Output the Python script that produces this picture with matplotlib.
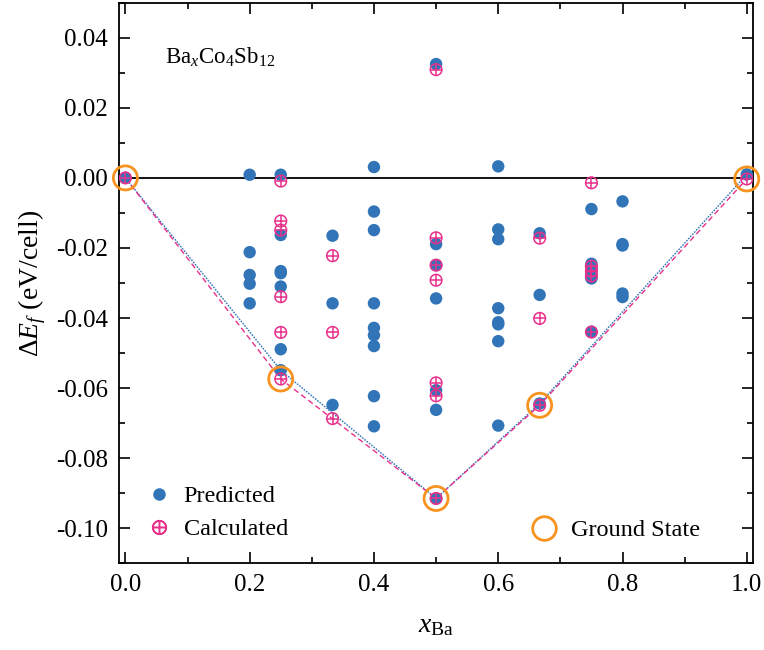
import numpy as np
import matplotlib.pyplot as plt
from matplotlib.ticker import MultipleLocator, FuncFormatter
from matplotlib.lines import Line2D

plt.rcParams["font.family"] = ["Liberation Serif", "DejaVu Serif"]
plt.rcParams["mathtext.fontset"] = "custom"
plt.rcParams["mathtext.rm"] = "Liberation Serif"
plt.rcParams["mathtext.it"] = "Liberation Serif:italic"

# predicted formation energies (eV/cell)
pred_x = [0.0,
          0.2, 0.2, 0.2, 0.2, 0.2,
          0.25, 0.25, 0.25, 0.25, 0.25, 0.25, 0.25,
          1/3, 1/3, 1/3,
          0.4, 0.4, 0.4, 0.4, 0.4, 0.4, 0.4, 0.4, 0.4,
          0.5, 0.5, 0.5, 0.5, 0.5, 0.5, 0.5,
          0.6, 0.6, 0.6, 0.6, 0.6, 0.6, 0.6, 0.6,
          2/3, 2/3, 2/3,
          0.75, 0.75, 0.75, 0.75, 0.75, 0.75,
          0.8, 0.8, 0.8, 0.8, 0.8,
          1.0]
pred_y = [0.0,
          0.0009, -0.0212, -0.0277, -0.0302, -0.0358,
          0.0009, -0.0163, -0.0266, -0.0272, -0.0310, -0.0489, -0.0549,
          -0.0165, -0.0358, -0.0648,
          0.0031, -0.0096, -0.0149, -0.0358, -0.0428, -0.0449, -0.0480, -0.0623, -0.0709,
          0.0325, -0.0189, -0.0249, -0.0344, -0.0606, -0.0662, -0.0915,
          0.0033, -0.0147, -0.0175, -0.0372, -0.0412, -0.0418, -0.0466, -0.0707,
          -0.0158, -0.0334, -0.0644,
          -0.0089, -0.0245, -0.0260, -0.0275, -0.0287, -0.0439,
          -0.0067, -0.0189, -0.0193, -0.0330, -0.0340,
          0.0010]

# DFT-calculated formation energies (eV/cell)
calc_x = [0.0,
          0.25, 0.25, 0.25, 0.25, 0.25, 0.25,
          1/3, 1/3, 1/3,
          0.5, 0.5, 0.5, 0.5, 0.5, 0.5, 0.5,
          2/3, 2/3, 2/3,
          0.75, 0.75, 0.75, 0.75, 0.75,
          1.0]
calc_y = [0.0,
          -0.0009, -0.0123, -0.0149, -0.0339, -0.0441, -0.0574,
          -0.0222, -0.0441, -0.0687,
          0.0309, -0.0171, -0.0249, -0.0292, -0.0585, -0.0622, -0.0915,
          -0.0172, -0.0401, -0.0649,
          -0.0014, -0.0252, -0.0266, -0.0280, -0.0440,
          -0.0003]

# convex hulls
pred_hull_x = [0.0, 0.25, 0.5, 2/3, 1.0]
pred_hull_y = [0.0, -0.0549, -0.0915, -0.0644, 0.0010]
calc_hull_x = [0.0, 0.25, 0.5, 2/3, 1.0]
calc_hull_y = [0.0, -0.0574, -0.0915, -0.0649, -0.0003]

blue = "#3175b8"
pink = "#e8308a"
orange = "#f7931e"

fig = plt.figure(figsize=(7.64, 6.5), dpi=100)
ax = fig.add_axes([0.156, 0.1334, 0.8296, 0.8624])

ax.axhline(0, color="black", lw=1.3, zorder=1)

ax.plot(pred_hull_x, pred_hull_y, color=blue, lw=1.0, ls=(0, (1.2, 0.9)), zorder=2)
ax.plot(calc_hull_x, calc_hull_y, color=pink, lw=1.0, ls=(0, (4, 2.5)), zorder=2)

ax.scatter(pred_x, pred_y, s=80, color=blue, edgecolors="none", zorder=3)
ax.scatter(calc_x, calc_y, s=70, facecolors="none", edgecolors=pink, linewidths=1.1, zorder=4)
ax.scatter(calc_x, calc_y, s=70, marker="+", color=pink, linewidths=1.1, zorder=4)

ax.scatter(calc_hull_x, calc_hull_y, s=300, facecolors="none", edgecolors=orange,
           linewidths=2.0, zorder=5, clip_on=False)

ax.set_xlim(-0.01, 1.01)
ax.set_ylim(-0.11, 0.05)
ax.xaxis.set_major_locator(MultipleLocator(0.2))
ax.xaxis.set_minor_locator(MultipleLocator(0.1))
ax.yaxis.set_major_locator(MultipleLocator(0.02))
ax.yaxis.set_minor_locator(MultipleLocator(0.01))
ax.xaxis.set_major_formatter(FuncFormatter(lambda v, p: f"{v + 0.0:.1f}"))
ax.yaxis.set_major_formatter(FuncFormatter(lambda v, p: "0.00" if abs(v) < 1e-9 else f"{v:.2f}"))
ax.tick_params(which="both", direction="in", top=True, right=True, labelsize=18, width=1.2)
ax.tick_params(which="major", length=8, pad=8)
ax.tick_params(which="minor", length=4)
for sp in ax.spines.values():
    sp.set_linewidth(1.3)

ax.set_xlabel(r"$x_{\mathrm{Ba}}$", fontsize=20, labelpad=12)
ax.set_ylabel(r"$\Delta E_f$ (eV/cell)", fontsize=20, labelpad=6)

ax.text(0.072, 0.903, r"Ba$_x$Co$_4$Sb$_{12}$", transform=ax.transAxes, fontsize=16.5,
        va="center", ha="left")

h_pred = Line2D([], [], ls="none", marker="o", color=blue, markersize=9, markeredgewidth=0)
h_calc = Line2D([], [], ls="none", marker="$\\oplus$", color=pink, markersize=10)
leg1 = ax.legend([h_pred, h_calc], ["Predicted", "Calculated"], loc="lower left",
                 bbox_to_anchor=(0.0, 0.002), frameon=False, fontsize=17.5,
                 handletextpad=0.25, labelspacing=0.45, handlelength=1.5)
ax.add_artist(leg1)
h_gs = Line2D([], [], ls="none", marker="o", markerfacecolor="none",
              markeredgecolor=orange, markeredgewidth=2.0, markersize=17)
ax.legend([h_gs], ["Ground State"], loc="lower right", bbox_to_anchor=(0.951, 0.0),
          frameon=False, fontsize=17.5, handletextpad=0.35, handlelength=1.5)

fig.savefig("out.png", dpi=100)
